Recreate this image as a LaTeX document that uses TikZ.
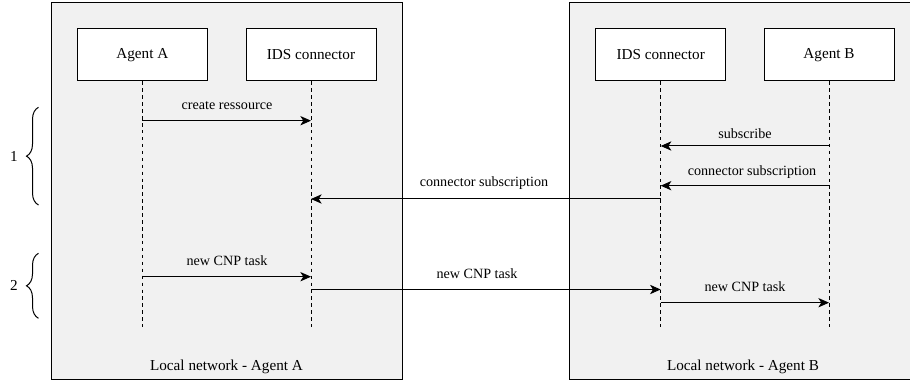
\documentclass[tikz,border=0pt]{standalone}
\usepackage{fontspec}
\setmainfont{Liberation Serif}
\usetikzlibrary{arrows.meta,decorations.pathreplacing}
\definecolor{panelgray}{HTML}{F1F1F1}
\begin{document}
\begin{tikzpicture}[x=0.75pt,y=-0.75pt,
  panel/.style={draw=black,fill=panelgray,line width=0.75pt},
  actor/.style={draw=black,fill=white,line width=0.75pt,minimum width=97.5pt,minimum height=39pt,inner sep=0pt,font=\fontsize{11.4}{13}\selectfont},
  lifeline/.style={line width=0.75pt,dash pattern=on 2.6pt off 2.6pt},
  msg/.style={line width=0.75pt,-{Stealth[length=8pt,width=7pt,inset=2.2pt]}},
  msglabel/.style={font=\fontsize{10.6}{12}\selectfont,inner sep=0pt},
  paneltitle/.style={font=\fontsize{11.4}{13}\selectfont,inner sep=0pt},
  bracestyle/.style={line width=0.75pt,decorate,decoration={brace,amplitude=9pt,aspect=0.5}}]
\useasboundingbox (0,0) rectangle (910,381);
\begin{scope}
\clip (0,0) rectangle (910,381);
% panels
\draw[panel] (51,3) rectangle (402,379);
\draw[panel] (569.5,3) rectangle (915,379);
\end{scope}
\node[paneltitle] (ttlA) at (226.5,367) {Local network - Agent A};
\node[paneltitle] (ttlB) at (743,367) {Local network - Agent B};
% actors
\node[actor] (agA) at (142.3,55) {Agent A};
\node[actor] (idsA) at (311,55) {IDS connector};
\node[actor] (idsB) at (660.7,55) {IDS connector};
\node[actor] (agB) at (829,55) {Agent B};
% lifeline ends
\coordinate (agAe) at (142.3,327);
\coordinate (idsAe) at (311,327);
\coordinate (idsBe) at (660.7,327);
\coordinate (agBe) at (829,327);
\draw[lifeline] (agA.south) -- (agAe);
\draw[lifeline] (idsA.south) -- (idsAe);
\draw[lifeline] (idsB.south) -- (idsBe);
\draw[lifeline] (agB.south) -- (agBe);
% message points
\coordinate (m1s) at (142.3,120.7); \coordinate (m1e) at (311,120.7);
\coordinate (m2s) at (829,146); \coordinate (m2e) at (660.7,146);
\coordinate (m3s) at (829,185.7); \coordinate (m3e) at (660.7,185.7);
\coordinate (m4s) at (660.7,199); \coordinate (m4e) at (311,199);
\coordinate (m5s) at (142.3,276.7); \coordinate (m5e) at (311,276.7);
\coordinate (m6s) at (311,289.5); \coordinate (m6e) at (660.7,289.5);
\coordinate (m7s) at (660.7,302.7); \coordinate (m7e) at (829,302.7);
\draw[msg] (m1s) -- (m1e);
\draw[msg] (m2s) -- (m2e);
\draw[msg] (m3s) -- (m3e);
\draw[msg] (m4s) -- (m4e);
\draw[msg] (m5s) -- (m5e);
\draw[msg] (m6s) -- (m6e);
\draw[msg] (m7s) -- (m7e);
\node[msglabel] (l1) at (227,105.5) {create ressource};
\node[msglabel] (l2) at (745,133.5) {subscribe};
\node[msglabel] (l3) at (752,172.5) {connector subscription};
\node[msglabel] (l4) at (484,183.5) {connector subscription};
\node[msglabel] (l5) at (227,261) {new CNP task};
\node[msglabel] (l6) at (477,274) {new CNP task};
\node[msglabel] (l7) at (745,287) {new CNP task};
% braces
\coordinate (b1bot) at (38.5,205); \coordinate (b1top) at (38.5,107.3);
\coordinate (b2bot) at (38.5,318.3); \coordinate (b2top) at (38.5,253.3);
\draw[bracestyle] (b1bot) -- (b1top);
\draw[bracestyle] (b2bot) -- (b2top);
\node[msglabel,font=\fontsize{11.4}{13}\selectfont] (n1) at (14,156) {1};
\node[msglabel,font=\fontsize{11.4}{13}\selectfont] (n2) at (14,285.7) {2};
\end{tikzpicture}
\end{document}
